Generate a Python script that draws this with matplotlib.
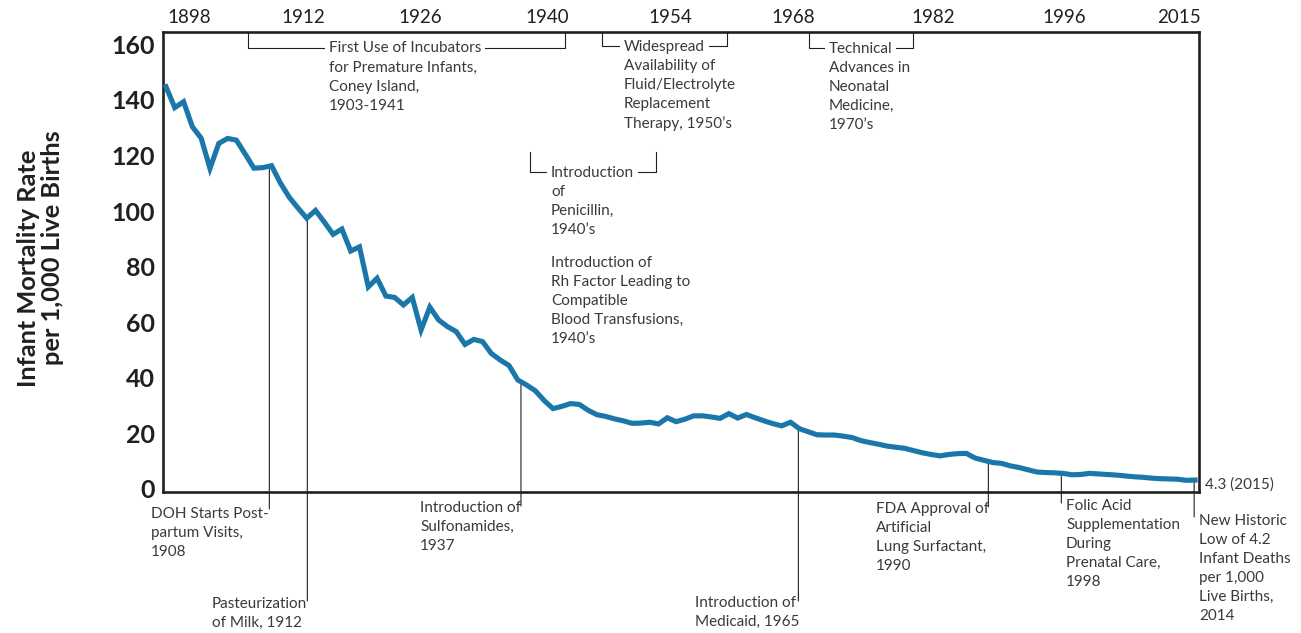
import numpy as np
import matplotlib
matplotlib.use("Agg")
import matplotlib.pyplot as plt
import matplotlib.transforms as mtransforms

# infant mortality rate per 1,000 live births
years = list(range(1898, 2016))
rates = [
    145.8, 138.3, 140.4, 131.4, 127.3, 116.4, 125.4, 127.2, 126.6, 121.6,   # 1898-1907
    116.5, 116.7, 117.4, 111.2, 106.1, 102.2, 98.5, 101.3, 97.1, 92.7,      # 1908-1917
    94.6, 86.7, 88.2, 73.8, 76.9, 70.5, 70.0, 67.3, 70.0, 58.3,             # 1918-1927
    66.5, 61.9, 59.5, 57.7, 53.1, 54.9, 54.1, 49.8, 47.5, 45.5,             # 1928-1937
    40.3, 38.5, 36.4, 32.9, 30.0, 30.8, 31.8, 31.5, 29.4, 27.8,             # 1938-1947
    27.2, 26.3, 25.6, 24.7, 24.8, 25.1, 24.5, 26.7, 25.3, 26.2,             # 1948-1957
    27.4, 27.4, 27.0, 26.5, 28.2, 26.6, 27.9, 26.7, 25.6, 24.6,             # 1958-1967
    23.8, 25.1, 22.8, 21.7, 20.6, 20.5, 20.5, 20.1, 19.6, 18.5,             # 1968-1977
    17.8, 17.2, 16.5, 16.1, 15.7, 14.9, 14.1, 13.5, 13.0, 13.5,             # 1978-1987
    13.8, 13.9, 12.2, 11.4, 10.6, 10.3, 9.4, 8.8, 8.0, 7.2,                 # 1988-1997
    7.0, 6.9, 6.7, 6.2, 6.3, 6.7, 6.5, 6.3, 6.1, 5.8,                       # 1998-2007
    5.5, 5.3, 5.0, 4.8, 4.7, 4.6, 4.2, 4.3,                                 # 2008-2015
]

# top axis labels and where they sit on the time axis in the picture
tick_labels = ["1898", "1912", "1926", "1940", "1954", "1968", "1982", "1996", "2015"]
tick_pos = [1900.6, 1913.6, 1926.9, 1941.3, 1955.3, 1969.3, 1985.2, 2000.1, 2013.2]

y_ticks = [0, 20, 40, 60, 80, 100, 120, 140, 160]

# milestones hanging below the curve
event_x = [1909.75, 1914.07, 1938.36, 1969.9, 1991.5, 1999.8, 2014.9]
event_labels = [
    "DOH Starts Post-\npartum Visits,\n1908",
    "Pasteurization\nof Milk, 1912",
    "Introduction of\nSulfonamides,\n1937",
    "Introduction of\nMedicaid, 1965",
    "FDA Approval of\nArtificial\nLung Surfactant,\n1990",
    "Folic Acid\nSupplementation\nDuring\nPrenatal Care,\n1998",
    "New Historic\nLow of 4.2\nInfant Deaths\nper 1,000\nLive Births,\n2014",
]

LINE_BLUE = "#1b77a9"
INK = "#231f20"
TEXT = "#3a3a3a"

plt.rcParams["font.family"] = ["Lato", "DejaVu Sans"]

W, H = 1301, 633
fig = plt.figure(figsize=(W / 100, H / 100), dpi=100)
L, R, T, B = 163, 1199, 32, 492
ax = fig.add_axes([L / W, 1 - B / H, (R - L) / W, (B - T) / H])
ax.set_xlim(1897.66, 2015.45)
ax.set_ylim(0, 165.5)

ax.plot(years, rates, color=LINE_BLUE, lw=3.7, solid_joinstyle="miter", zorder=3)

for s in ax.spines.values():
    s.set_color(INK)
    s.set_linewidth(1.9)

ax.xaxis.tick_top()
ax.set_xticks(tick_pos, tick_labels)
ax.tick_params(axis="x", length=0, pad=4, labelsize=13.5, labelcolor=INK)
ax.set_yticks(y_ticks, [str(v) for v in y_ticks], fontweight="bold")
ax.tick_params(axis="y", length=0, pad=6, labelsize=18, labelcolor=INK)
# the reference sets its value labels a few pixels above the gridline positions
nudge = mtransforms.ScaledTranslation(0, 3 / 100, fig.dpi_scale_trans)
for lbl in ax.get_yticklabels():
    lbl.set_transform(lbl.get_transform() + nudge)

# pixel transform (origin top-left of the figure) for the annotation layout
px = mtransforms.Affine2D().scale(0.01, -0.01).translate(0, H / 100) + fig.dpi_scale_trans
bl = mtransforms.blended_transform_factory(ax.transData, px)

ax.text(29, 268, "Infant Mortality Rate", transform=px, rotation=90, ha="center",
        va="center", fontsize=18.3, fontweight="bold", color=INK)
ax.text(53, 248, "per 1,000 Live Births", transform=px, rotation=90, ha="center",
        va="center", fontsize=18.3, fontweight="bold", color=INK)

fs = 11
ls = 1.45
TOP = 6  # first-line centre minus this gives the text box top


def label(x, yc, txt, ha="left", **kw):
    return ax.text(x, yc - TOP, txt, transform=px, ha=ha, va="top", multialignment="left",
                   fontsize=fs, linespacing=ls, color=TEXT, **kw)


# connectors from the curve down to the labels
ends = [509, 601, 506, 601, 507, 503, 517]
for x, yend in zip(event_x, ends):
    y = np.interp(x, years, rates)
    ax.annotate("", xy=(x, y), xytext=(x, yend), textcoords=bl,
                arrowprops=dict(arrowstyle="-", color=INK, lw=0.8, shrinkA=0, shrinkB=0),
                annotation_clip=False, zorder=2)

# label anchors: (x px, first-line centre px, ha)
label_pos = [(269, 513, "right"), (307, 603, "right"), (521, 507, "right"),
             (799, 602, "right"), (989, 508, "right"), (1066, 505, "left"),
             (1199, 520, "left")]
for (lx, ly, ha), txt in zip(label_pos, event_labels):
    label(lx, ly, txt, ha=ha)

label(1205, 483, "4.3 (2015)")


def bracket(x0, x1, ytop, ybot, first, rest, tx):
    ax.plot([x0, x0, x1, x1], [ytop, ybot, ybot, ytop], transform=px, color=INK,
            lw=0.8, clip_on=False, zorder=1)
    label(tx, ybot, first, zorder=4,
          bbox=dict(facecolor="white", edgecolor="none", pad=2.5))
    if rest:
        label(tx, ybot + 19.3, rest)


bracket(248, 565, 32, 47.5, "First Use of Incubators",
        "for Premature Infants,\nConey Island,\n1903-1941", 329)
bracket(602, 727, 32, 46, "Widespread",
        "Availability of\nFluid/Electrolyte\nReplacement\nTherapy, 1950\u2019s", 624)
bracket(809, 913, 32, 48, "Technical",
        "Advances in\nNeonatal\nMedicine,\n1970\u2019s", 829)
bracket(530, 656, 152, 172, "Introduction", "of\nPenicillin,\n1940\u2019s", 551)

label(551, 262, "Introduction of\nRh Factor Leading to\nCompatible\nBlood Transfusions,\n1940\u2019s")

fig.savefig("out.png", dpi=100)
